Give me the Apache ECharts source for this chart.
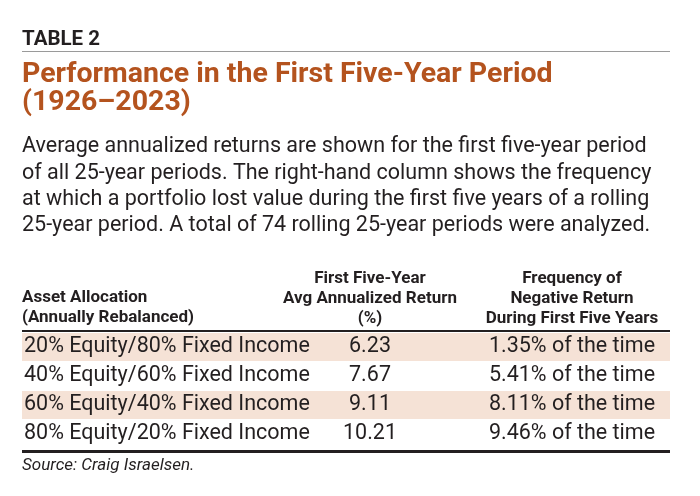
<!DOCTYPE html>
<html lang="en">
<head>
<meta charset="UTF-8">
<title>Table 2</title>
<style>
  html,body{margin:0;padding:0;background:#fff;}
  .chart{width:700px;height:496px;}
</style>
</head>
<body>
<div class="chart" id="showData"></div>
<script src="https://cdn.jsdelivr.net/npm/echarts@6/dist/echarts.min.js"></script>
<script>
var tableLabel = 'TABLE 2';
var titleLines = ['Performance in the First Five-Year Period', '(1926\u20132023)'];
var introLines = [
    'Average annualized returns are shown for the first five-year period',
    'of all 25-year periods. The right-hand column shows the frequency',
    'at which a portfolio lost value during the first five years of a rolling',
    '25-year period. A total of 74 rolling 25-year periods were analyzed.'
];
var headAllocation = ['Asset Allocation', '(Annually Rebalanced)'];
var headReturn = ['First Five-Year', 'Avg Annualized Return', '(%)'];
var headNegative = ['Frequency of', 'Negative Return', 'During First Five Years'];
var allocations = ['20% Equity/80% Fixed Income', '40% Equity/60% Fixed Income', '60% Equity/40% Fixed Income', '80% Equity/20% Fixed Income'];
var avgReturns = ['6.23', '7.67', '9.11', '10.21'];
var negativeFreq = ['1.35% of the time', '5.41% of the time', '8.11% of the time', '9.46% of the time'];
var sourceText = 'Source: Craig Israelsen.';

var font = 'Roboto, "Noto Sans", sans-serif';
var els = [];
function txt(x, y, s, size, opt) {
    opt = opt || {};
    els.push({type: 'text', x: x, y: y, style: {
        text: s, fontFamily: font, fontSize: size, fill: opt.fill || '#231f20',
        fontWeight: opt.weight || 'normal', fontStyle: opt.style || 'normal',
        textAlign: opt.align || 'left', textVerticalAlign: 'middle'
    }});
}
function line(y, w, c) {
    els.push({type: 'rect', shape: {x: 22, y: y, width: 648, height: w}, style: {fill: c}});
}

txt(22, 40, tableLabel, 20.5, {weight: 'bold'});
line(51, 1, '#9a9a9a');
titleLines.forEach(function (t, i) { txt(22, 75 + i * 28, t, 28.5, {weight: 'bold', fill: '#b4531e'}); });
introLines.forEach(function (t, i) { txt(22, 147 + i * 26.3, t, 21.5); });

headAllocation.forEach(function (t, i) { txt(22, 298 + i * 20, t, 17, {weight: 'bold'}); });
headReturn.forEach(function (t, i) { txt(370, 279 + i * 20, t, 17, {weight: 'bold', align: 'center'}); });
headNegative.forEach(function (t, i) { txt(572, 279 + i * 20, t, 17, {weight: 'bold', align: 'center'}); });
line(330, 2, '#231f20');

allocations.forEach(function (a, i) {
    var y = 347 + i * 29;
    if (i % 2 === 0) {
        els.push({type: 'rect', shape: {x: 22, y: y - 14, width: 648, height: 28}, style: {fill: '#f5e2d6'}});
    }
    txt(24, y, a, 21.5);
    txt(370, y, avgReturns[i], 21.5, {align: 'center'});
    txt(572, y, negativeFreq[i], 21.5, {align: 'center'});
});
line(450, 3, '#231f20');
txt(22, 466, sourceText, 17, {style: 'italic'});

var mychart = echarts.init(document.getElementById('showData'));
mychart.setOption({animation: false, graphic: {elements: els}});
</script>
</body>
</html>
